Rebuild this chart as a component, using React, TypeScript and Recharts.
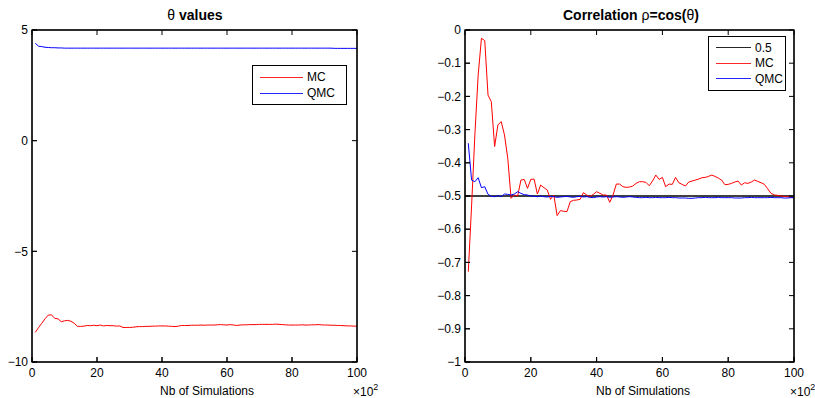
import React from "react";
import { LineChart, Line, XAxis, YAxis } from "recharts";

// number of simulations (x 10^2)
const simSteps = Array.from({ length: 100 }, (_, i) => i + 1);
const xTicks = [0, 20, 40, 60, 80, 100];
const thetaTicks = [-10, -5, 0, 5];
const rhoTicks = [0, -0.1, -0.2, -0.3, -0.4, -0.5, -0.6, -0.7, -0.8, -0.9, -1];

// theta estimates
const thetaMC = [
  -8.66, -8.45, -8.25, -8.05, -7.88, -7.87, -8.03, -8.05, -8.18, -8.14,
  -8.12, -8.16, -8.25, -8.39, -8.39, -8.38, -8.35, -8.36, -8.34, -8.36,
  -8.33, -8.37, -8.35, -8.36, -8.36, -8.38, -8.37, -8.44, -8.44, -8.44,
  -8.43, -8.41, -8.4, -8.4, -8.39, -8.39, -8.38, -8.38, -8.37, -8.37,
  -8.37, -8.38, -8.39, -8.4, -8.38, -8.35, -8.35, -8.35, -8.34, -8.34,
  -8.34, -8.33, -8.34, -8.33, -8.33, -8.33, -8.32, -8.31, -8.32, -8.33,
  -8.31, -8.33, -8.35, -8.33, -8.32, -8.32, -8.31, -8.31, -8.31, -8.3,
  -8.3, -8.3, -8.3, -8.3, -8.29, -8.3, -8.31, -8.32, -8.33, -8.33,
  -8.33, -8.33, -8.32, -8.33, -8.33, -8.32, -8.32, -8.31, -8.32, -8.33,
  -8.33, -8.34, -8.34, -8.35, -8.35, -8.36, -8.37, -8.37, -8.38, -8.38,
];
const thetaQMC = [
  4.4, 4.27, 4.25, 4.22, 4.21, 4.2, 4.2, 4.19, 4.19, 4.18,
  4.18, 4.18, 4.18, 4.18, 4.18, 4.18, 4.18, 4.18, 4.18, 4.18,
  4.18, 4.18, 4.18, 4.18, 4.18, 4.18, 4.18, 4.18, 4.18, 4.18,
  4.18, 4.18, 4.18, 4.18, 4.18, 4.18, 4.18, 4.18, 4.18, 4.18,
  4.18, 4.18, 4.18, 4.18, 4.18, 4.18, 4.18, 4.18, 4.18, 4.18,
  4.18, 4.18, 4.18, 4.18, 4.18, 4.18, 4.18, 4.18, 4.18, 4.18,
  4.18, 4.18, 4.18, 4.18, 4.18, 4.18, 4.18, 4.18, 4.18, 4.18,
  4.18, 4.18, 4.18, 4.18, 4.18, 4.18, 4.18, 4.18, 4.18, 4.18,
  4.18, 4.18, 4.18, 4.18, 4.18, 4.18, 4.18, 4.18, 4.18, 4.18,
  4.18, 4.18, 4.17, 4.17, 4.17, 4.17, 4.17, 4.17, 4.17, 4.17,
];

// correlation estimates
const rhoMC = [
  -0.728, -0.53, -0.316, -0.136, -0.025, -0.032, -0.196, -0.216, -0.351, -0.286,
  -0.276, -0.316, -0.387, -0.507, -0.497, -0.5, -0.452, -0.45, -0.477, -0.45,
  -0.449, -0.494, -0.467, -0.475, -0.482, -0.51, -0.497, -0.559, -0.544, -0.546,
  -0.547, -0.517, -0.513, -0.512, -0.51, -0.49, -0.497, -0.502, -0.495, -0.487,
  -0.492, -0.497, -0.497, -0.519, -0.497, -0.464, -0.464, -0.472, -0.474, -0.473,
  -0.47, -0.462, -0.457, -0.457, -0.459, -0.469, -0.455, -0.437, -0.45, -0.444,
  -0.472, -0.464, -0.465, -0.444, -0.46, -0.465, -0.47, -0.458, -0.455, -0.452,
  -0.449, -0.445, -0.444, -0.441, -0.437, -0.441, -0.446, -0.452, -0.466, -0.465,
  -0.462, -0.458, -0.455, -0.467, -0.46, -0.462, -0.458, -0.452, -0.456, -0.46,
  -0.465, -0.478, -0.492, -0.497, -0.498, -0.5, -0.501, -0.502, -0.504, -0.506,
];
const rhoQMC = [
  -0.341, -0.452, -0.457, -0.445, -0.475, -0.472, -0.495, -0.501, -0.502, -0.499,
  -0.502, -0.494, -0.495, -0.497, -0.494, -0.487, -0.492, -0.496, -0.497, -0.5,
  -0.501, -0.502, -0.5, -0.502, -0.503, -0.501, -0.502, -0.504, -0.503, -0.502,
  -0.501, -0.503, -0.504, -0.502, -0.501, -0.503, -0.502, -0.504, -0.505, -0.503,
  -0.502, -0.503, -0.502, -0.504, -0.503, -0.502, -0.503, -0.504, -0.503, -0.502,
  -0.503, -0.504, -0.505, -0.505, -0.504, -0.505, -0.505, -0.504, -0.505, -0.505,
  -0.505, -0.504, -0.505, -0.505, -0.506, -0.506, -0.506, -0.507, -0.507, -0.506,
  -0.505, -0.505, -0.504, -0.505, -0.505, -0.505, -0.504, -0.505, -0.505, -0.505,
  -0.505, -0.506, -0.506, -0.506, -0.505, -0.505, -0.504, -0.505, -0.505, -0.505,
  -0.505, -0.505, -0.504, -0.505, -0.505, -0.505, -0.506, -0.506, -0.505, -0.505,
];
const refX = [0, 100];
const refLevel = -0.5;

const thetaData = simSteps.map((n, i) => ({ n, mc: thetaMC[i], qmc: thetaQMC[i] }));
const rhoData = simSteps.map((n, i) => ({ n, mc: rhoMC[i], qmc: rhoQMC[i] }));
const refData = refX.map((n) => ({ n, ref: refLevel }));

const fontStack = '"Liberation Sans", Arial, Helvetica, sans-serif';

const minus = (v: number) => (v < 0 ? "\u2212" + String(Math.abs(v)) : String(v));
const tickStyle = { fill: "#000", fontSize: 12 };

const thetaLegend = [
  { name: "MC", color: "#ff0000" },
  { name: "QMC", color: "#0000ff" },
];
const rhoLegend = [
  { name: "0.5", color: "#000000" },
  { name: "MC", color: "#ff0000" },
  { name: "QMC", color: "#0000ff" },
];

// plot boxes (same as the chart margins below)
const boxes = [
  { left: 32, top: 30, w: 325, h: 332, yDomain: [-10, 5], yTicks: thetaTicks },
  { left: 465, top: 30, w: 329, h: 332, yDomain: [-1, 0], yTicks: rhoTicks },
];

function LegendBox({ left, top, width, rowH, lineW, items }: any) {
  return (
    <div
      style={{
        position: "absolute",
        left,
        top,
        width,
        border: "1.5px solid #000",
        background: "#fff",
        padding: "3px 0",
        boxSizing: "border-box",
      }}
    >
      {items.map((it: any) => (
        <div key={it.name} style={{ display: "flex", alignItems: "center", height: rowH }}>
          <div style={{ marginLeft: 7, width: lineW, height: 1, background: it.color, opacity: 0.85 }} />
          <span style={{ marginLeft: 4, fontSize: 12, lineHeight: "12px" }}>{it.name}</span>
        </div>
      ))}
    </div>
  );
}

// Matlab style frame with inward ticks on all four sides
function Frames() {
  return (
    <svg width={815} height={398} style={{ position: "absolute", left: 0, top: 0, pointerEvents: "none" }}>
      {boxes.map((b, bi) => {
        const [y0, y1] = b.yDomain;
        const px = (v: number) => b.left + (v / 100) * b.w;
        const py = (v: number) => b.top + ((y1 - v) / (y1 - y0)) * b.h;
        return (
          <g key={bi} stroke="#000" fill="none">
            <rect x={b.left} y={b.top} width={b.w} height={b.h} strokeWidth={1.3} />
            {xTicks.map((t) => (
              <g key={"x" + t}>
                <line x1={px(t)} x2={px(t)} y1={b.top + b.h} y2={b.top + b.h - 5} />
                <line x1={px(t)} x2={px(t)} y1={b.top} y2={b.top + 5} />
              </g>
            ))}
            {b.yTicks.map((t) => (
              <g key={"y" + t}>
                <line x1={b.left} x2={b.left + 5} y1={py(t)} y2={py(t)} />
                <line x1={b.left + b.w} x2={b.left + b.w - 5} y1={py(t)} y2={py(t)} />
              </g>
            ))}
          </g>
        );
      })}
    </svg>
  );
}

const textAbs = (left: number, top: number, width: number, size: number, bold = false): React.CSSProperties => ({
  position: "absolute",
  left,
  top,
  width,
  textAlign: "center",
  fontSize: size,
  lineHeight: `${size}px`,
  fontWeight: bold ? "bold" : "normal",
  whiteSpace: "nowrap",
});

export default function App() {
  return (
    <div
      style={{
        position: "absolute",
        left: 0,
        top: 0,
        width: 815,
        height: 398,
        background: "#fff",
        fontFamily: fontStack,
      }}
    >
      <div style={{ position: "absolute", left: 0, top: 0 }}>
        <LineChart width={407} height={398} data={thetaData} margin={{ top: 29, right: 49, bottom: 6, left: 0 }}>
          <XAxis dataKey="n" type="number" domain={[0, 100]} ticks={xTicks} height={30} stroke="#000" tickSize={-5} tickMargin={11} tick={tickStyle} />
          <XAxis xAxisId="top" orientation="top" dataKey="n" type="number" domain={[0, 100]} ticks={xTicks} height={1} stroke="#000" tickSize={-5} tick={false} />
          <YAxis type="number" domain={[-10, 5]} ticks={thetaTicks} width={32} stroke="#000" tickSize={-5} tickMargin={9} tick={tickStyle} tickFormatter={minus} />
          <YAxis yAxisId="right" orientation="right" type="number" domain={[-10, 5]} ticks={thetaTicks} width={1} stroke="#000" tickSize={-5} tick={false} />
          <Line type="linear" dataKey="mc" stroke="#ff0000" strokeWidth={1} dot={false} isAnimationActive={false} />
          <Line type="linear" dataKey="qmc" stroke="#0000ff" strokeWidth={1} dot={false} isAnimationActive={false} />
        </LineChart>
      </div>
      <div style={{ position: "absolute", left: 408, top: 0 }}>
        <LineChart width={407} height={398} data={rhoData} margin={{ top: 29, right: 20, bottom: 6, left: 0 }}>
          <XAxis dataKey="n" type="number" domain={[0, 100]} ticks={xTicks} height={30} stroke="#000" tickSize={-5} tickMargin={11} tick={tickStyle} />
          <XAxis xAxisId="top" orientation="top" dataKey="n" type="number" domain={[0, 100]} ticks={xTicks} height={1} stroke="#000" tickSize={-5} tick={false} />
          <YAxis type="number" domain={[-1, 0]} ticks={rhoTicks} width={57} stroke="#000" tickSize={-5} tickMargin={9} tick={tickStyle} tickFormatter={minus} />
          <YAxis yAxisId="right" orientation="right" type="number" domain={[-1, 0]} ticks={rhoTicks} width={1} stroke="#000" tickSize={-5} tick={false} />
          <Line type="linear" data={refData} dataKey="ref" stroke="#000" strokeWidth={1.3} dot={false} isAnimationActive={false} />
          <Line type="linear" dataKey="mc" stroke="#ff0000" strokeWidth={1} dot={false} isAnimationActive={false} />
          <Line type="linear" dataKey="qmc" stroke="#0000ff" strokeWidth={1} dot={false} isAnimationActive={false} />
        </LineChart>
      </div>

      <Frames />

      <div style={textAbs(95, 8, 200, 14, true)}>
        <span style={{ fontWeight: "normal" }}>θ</span> values
      </div>
      <div style={textAbs(531, 8, 200, 14, true)}>
        Correlation <span style={{ fontWeight: "normal" }}>ρ</span>=cos(<span style={{ fontWeight: "normal" }}>θ</span>)
      </div>

      <div style={textAbs(107, 385, 200, 12)}>Nb of Simulations</div>
      <div style={textAbs(543, 385, 200, 12)}>Nb of Simulations</div>

      <div style={{ position: "absolute", left: 353, top: 386, fontSize: 12, lineHeight: "12px" }}>
        ×10<sup style={{ fontSize: 9, verticalAlign: "6px", lineHeight: 0 }}>2</sup>
      </div>
      <div style={{ position: "absolute", left: 790, top: 386, fontSize: 12, lineHeight: "12px" }}>
        ×10<sup style={{ fontSize: 9, verticalAlign: "6px", lineHeight: 0 }}>2</sup>
      </div>

      <LegendBox left={252} top={65} width={95} rowH={16} lineW={43} items={thetaLegend} />
      <LegendBox left={708} top={36} width={78} rowH={15.5} lineW={35} items={rhoLegend} />
    </div>
  );
}
